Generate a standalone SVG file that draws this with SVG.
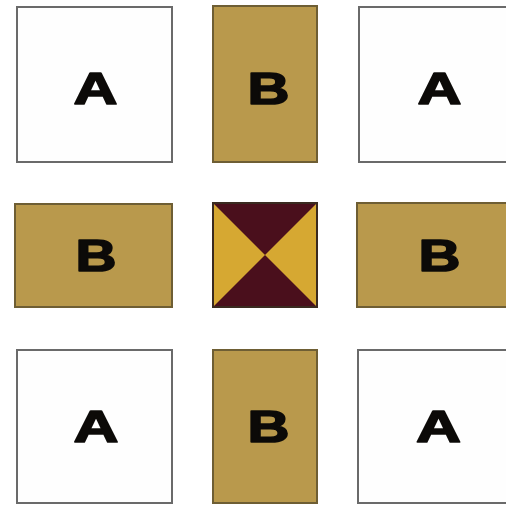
<svg xmlns="http://www.w3.org/2000/svg" width="506" height="507" viewBox="0 0 506 507">
<style>
.a{fill:#fefefe;stroke:#6a6a6a;stroke-width:2}
.b{fill:#b9994c;stroke:#6e5e34;stroke-width:2}
.t{font-family:"Liberation Sans",Arial,sans-serif;font-weight:bold;font-size:45px;fill:#0c0a08;stroke:#0c0a08;stroke-width:1.6;stroke-linejoin:round;text-anchor:middle}
</style>
<rect width="506" height="507" fill="#ffffff"/>
<g id="a1"><rect class="a" x="17" y="7" width="155" height="155"/><text class="t" x="95.5" y="103.5" textLength="44" lengthAdjust="spacingAndGlyphs">A</text></g>
<g id="b1"><rect class="b" x="213" y="6" width="104" height="156"/><text class="t" x="268.5" y="103.5" textLength="42" lengthAdjust="spacingAndGlyphs">B</text></g>
<g id="a2"><rect class="a" x="359" y="7" width="155" height="155"/><text class="t" x="439.5" y="103.5" textLength="44" lengthAdjust="spacingAndGlyphs">A</text></g>
<g id="b2"><rect class="b" x="15" y="204" width="157" height="103"/><text class="t" x="96" y="270.5" textLength="41" lengthAdjust="spacingAndGlyphs">B</text></g>
<g id="c">
<rect x="213" y="203" width="104" height="104" fill="#4a0f1c"/>
<polygon points="213,203 265,255 213,307" fill="#d6a832"/>
<polygon points="317,203 265,255 317,307" fill="#d6a832"/>
<rect x="213" y="203" width="104" height="104" fill="none" stroke="#3a2a20" stroke-width="2"/>
</g>
<g id="b3"><rect class="b" x="357" y="203" width="157" height="104"/><text class="t" x="439.5" y="270.5" textLength="42" lengthAdjust="spacingAndGlyphs">B</text></g>
<g id="a3"><rect class="a" x="17" y="350" width="155" height="153"/><text class="t" x="96" y="441.5" textLength="45" lengthAdjust="spacingAndGlyphs">A</text></g>
<g id="b4"><rect class="b" x="213" y="350" width="104" height="153"/><text class="t" x="268.5" y="441.5" textLength="42" lengthAdjust="spacingAndGlyphs">B</text></g>
<g id="a4"><rect class="a" x="358" y="350" width="155" height="153"/><text class="t" x="438.5" y="441.5" textLength="45" lengthAdjust="spacingAndGlyphs">A</text></g>
<g id="connectors"></g>
</svg>
